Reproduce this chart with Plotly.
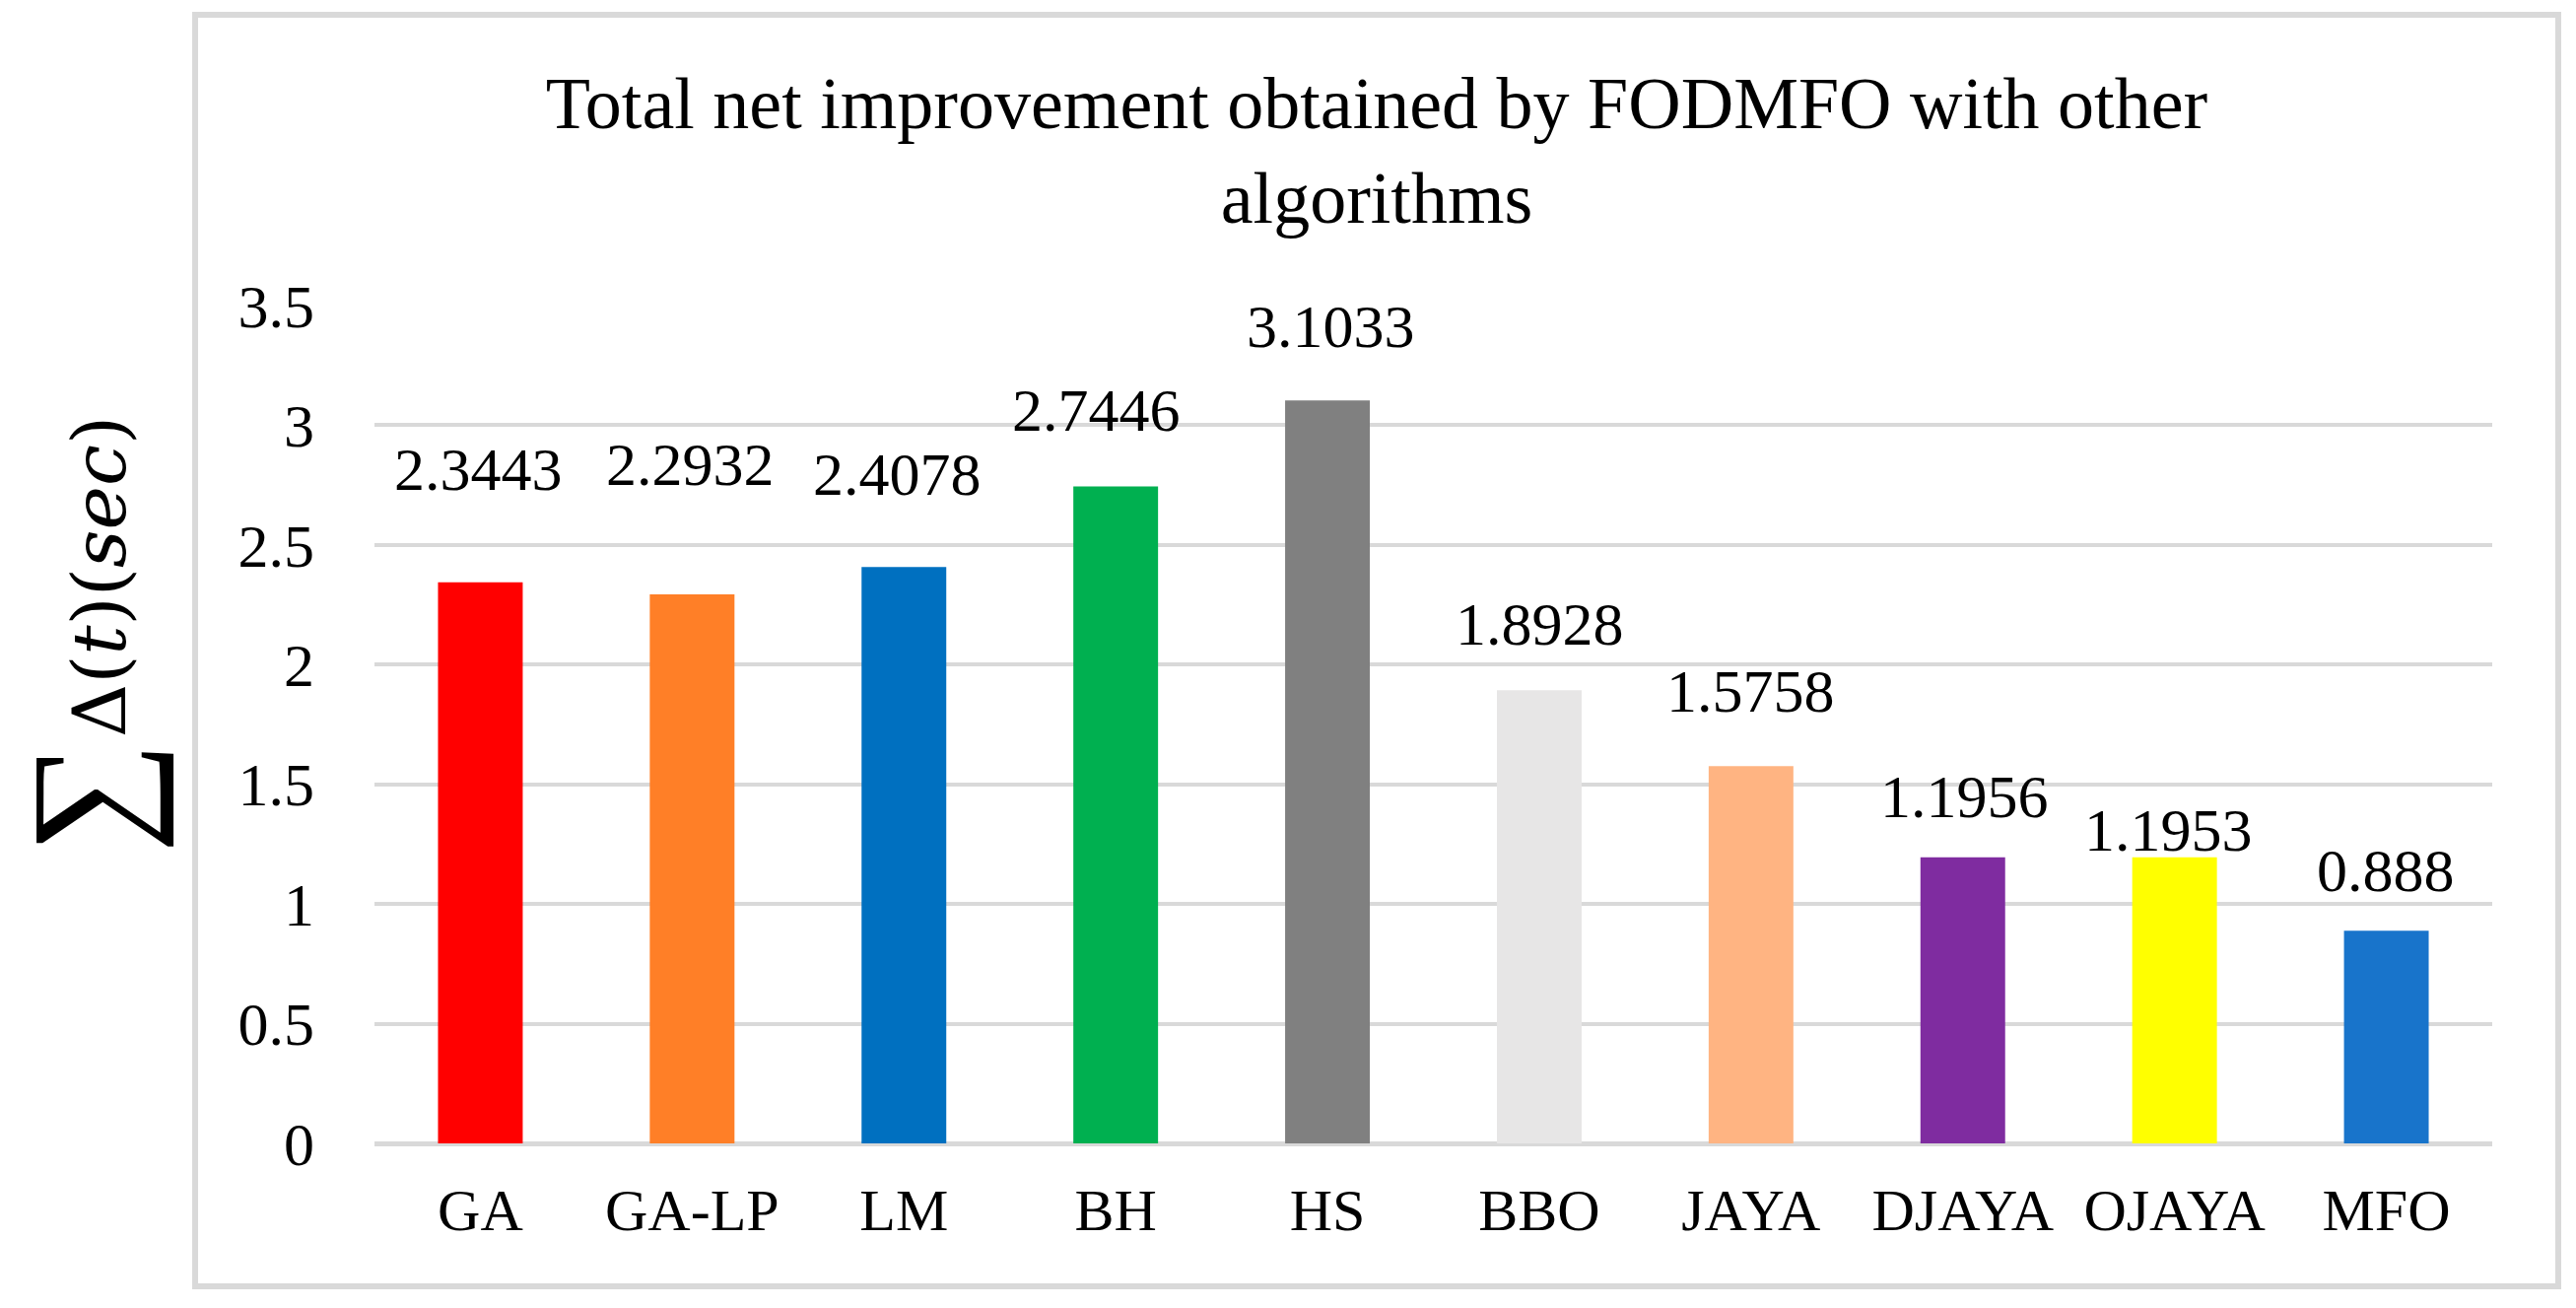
import plotly.graph_objects as go

# ---- data ----
algorithms = ["GA", "GA-LP", "LM", "BH", "HS", "BBO", "JAYA", "DJAYA", "OJAYA", "MFO"]
improvement = [2.3443, 2.2932, 2.4078, 2.7446, 3.1033, 1.8928, 1.5758, 1.1956, 1.1953, 0.888]
value_labels = ["2.3443", "2.2932", "2.4078", "2.7446", "3.1033", "1.8928", "1.5758", "1.1956", "1.1953", "0.888"]
y_ticks = [0, 0.5, 1, 1.5, 2, 2.5, 3, 3.5]
y_tick_labels = ["0", "0.5", "1", "1.5", "2", "2.5", "3", "3.5"]

# ---- styles ----
bar_colors = ["#FF0000", "#FF7F27", "#0070C0", "#00B050", "#808080",
              "#E7E6E6", "#FFB482", "#7F2CA0", "#FFFF00", "#1874CB"]
label_yshift = [115, 132, 94, 77, 75, 67, 76, 62, 28, 61]   # px above bar top
label_xshift = [-2, -2, -7, -20, 3, 1, 0, 2, -6, -1]

OFF = 8                      # browser body margin
W, H = 2614 - OFF, 1327 - OFF
L, R, T, B = 380 - OFF, 2529 - OFF, 310 - OFF, 1160 - OFF
SERIF = "Liberation Serif, Times New Roman, serif"
GRID = "#D9D9D9"


def px_x(p):
    return (p - OFF - L) / (R - L)


def px_y(p):
    return (B - (p - OFF)) / (B - T)


fig = go.Figure()
fig.add_trace(go.Bar(
    x=algorithms, y=improvement,
    marker=dict(color=bar_colors, line=dict(width=0)),
    hoverinfo="x+y", showlegend=False,
))

annotations = []
for cat, val, lab, dy, dx in zip(algorithms, improvement, value_labels, label_yshift, label_xshift):
    annotations.append(dict(
        x=cat, y=val, xref="x", yref="y", text=lab, showarrow=False,
        xanchor="center", yanchor="middle", yshift=dy, xshift=dx,
        font=dict(family=SERIF, size=62, color="black"),
    ))

# y-axis title: big summation sign + Δ(t)(sec)
annotations.append(dict(
    x=px_x(88), y=px_y(809), xref="paper", yref="paper", text="∑",
    showarrow=False, textangle=-90, xanchor="center", yanchor="middle",
    font=dict(family="Liberation Serif", size=160, color="black"),
))
annotations.append(dict(
    x=px_x(101), y=px_y(585), xref="paper", yref="paper",
    text="Δ(<i>t</i>)(<i>sec</i>)",
    showarrow=False, textangle=-90, xanchor="center", yanchor="middle",
    font=dict(family="DejaVu Serif", size=75, color="black"),
))

fig.update_layout(
    width=W, height=H,
    margin=dict(l=L, r=W - R, t=T, b=H - B, pad=0),
    paper_bgcolor="white", plot_bgcolor="white",
    bargap=0.6,
    title=dict(
        text="Total net improvement obtained by FODMFO with other<br>algorithms",
        x=(1397 - OFF) / W, xanchor="center", xref="container",
        y=1 - 122 / H, yanchor="top", yref="container",
        font=dict(family=SERIF, size=74, color="black"),
    ),
    xaxis=dict(
        showgrid=False, showline=False, zeroline=False, ticks="",
        tickfont=dict(family=SERIF, size=60, color="black"),
        ticklabelstandoff=27,
    ),
    yaxis=dict(
        range=[0, 3.5], tickvals=y_ticks, ticktext=y_tick_labels,
        showgrid=True, gridcolor=GRID, gridwidth=4,
        zeroline=True, zerolinecolor=GRID, zerolinewidth=5,
        showline=False, ticks="",
        tickfont=dict(family=SERIF, size=62, color="black"),
        ticklabelstandoff=60,
    ),
    annotations=annotations,
    shapes=[dict(
        type="rect", xref="paper", yref="paper",
        x0=px_x(198), x1=px_x(2596), y0=px_y(1305), y1=px_y(15),
        line=dict(color=GRID, width=6), fillcolor="rgba(0,0,0,0)", layer="below",
    )],
)

fig.write_html("out.html")
